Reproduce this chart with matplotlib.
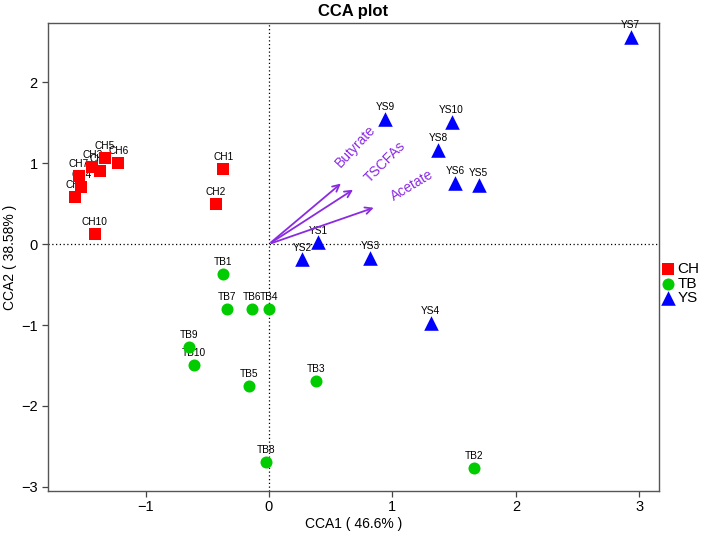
import matplotlib
matplotlib.use("Agg")
import matplotlib.pyplot as plt

plt.rcParams['font.family'] = ['Liberation Sans', 'DejaVu Sans']

# sample scores (CCA1, CCA2)
ch_names = ['CH1', 'CH2', 'CH3', 'CH4', 'CH5', 'CH6', 'CH7', 'CH8', 'CH9', 'CH10']
ch_x = [-0.37, -0.43, -1.43, -1.52, -1.33, -1.22, -1.54, -1.37, -1.57, -1.41]
ch_y = [0.93, 0.49, 0.95, 0.70, 1.06, 1.00, 0.84, 0.90, 0.58, 0.13]

tb_names = ['TB1', 'TB2', 'TB3', 'TB4', 'TB5', 'TB6', 'TB7', 'TB8', 'TB9', 'TB10']
tb_x = [-0.37, 1.66, 0.38, 0.00, -0.16, -0.14, -0.34, -0.02, -0.65, -0.61]
tb_y = [-0.37, -2.77, -1.69, -0.80, -1.75, -0.80, -0.80, -2.69, -1.27, -1.49]

ys_names = ['YS1', 'YS2', 'YS3', 'YS4', 'YS5', 'YS6', 'YS7', 'YS8', 'YS9', 'YS10']
ys_x = [0.40, 0.27, 0.82, 1.31, 1.70, 1.51, 2.93, 1.37, 0.94, 1.48]
ys_y = [0.02, -0.19, -0.17, -0.98, 0.73, 0.76, 2.56, 1.16, 1.55, 1.51]

# environmental vectors
env_names = ['Butyrate', 'TSCFAs', 'Acetate']
env_x = [0.60, 0.70, 0.87]
env_y = [0.77, 0.69, 0.46]
env_lab_x = [0.70, 0.94, 1.16]
env_lab_y = [1.21, 1.01, 0.72]
env_rot = [47, 45, 31]

groups = [
    ('CH', ch_names, ch_x, ch_y, 's', '#FF0000', 85),
    ('TB', tb_names, tb_x, tb_y, 'o', '#00CC00', 75),
    ('YS', ys_names, ys_x, ys_y, '^', '#0000FF', 110),
]

fig = plt.figure(figsize=(7.09, 5.37), dpi=100)
ax = fig.add_axes([0.0677, 0.0857, 0.8618, 0.8713])

ax.axhline(0, color='black', linestyle=(0, (1, 2)), linewidth=0.9, zorder=1)
ax.axvline(0, color='black', linestyle=(0, (1, 2)), linewidth=0.9, zorder=1)

for label, names, xs, ys, marker, color, size in groups:
    ax.scatter(xs, ys, marker=marker, s=size, color=color, label=label,
               linewidths=0, zorder=4)
    for n, x, y in zip(names, xs, ys):
        ax.annotate(n, (x, y), xytext=(0, 5), textcoords='offset points',
                    ha='center', va='bottom', fontsize=7.3, zorder=3)

purple = '#8A2BE2'
for n, x, y, lx, ly, r in zip(env_names, env_x, env_y, env_lab_x, env_lab_y, env_rot):
    ax.annotate('', xy=(x, y), xytext=(0, 0),
                arrowprops=dict(arrowstyle='->', color=purple, lw=1.3,
                                mutation_scale=12), zorder=5)
    ax.text(lx, ly, n, color=purple, fontsize=10, rotation=r,
            ha='center', va='center', rotation_mode='anchor', zorder=5)

ax.set_xlim(-1.79, 3.16)
ax.set_ylim(-3.05, 2.73)
ax.set_xticks([-1, 0, 1, 2, 3])
ax.set_yticks([-3, -2, -1, 0, 1, 2])
ax.set_xticklabels(['\u22121', '0', '1', '2', '3'])
ax.set_yticklabels(['\u22123', '\u22122', '\u22121', '0', '1', '2'])
ax.tick_params(direction='out', length=4, width=0.9, labelsize=10.5, pad=2.5,
               color='#444444')
ax.tick_params(axis='y', pad=3.5)
for sp in ax.spines.values():
    sp.set_color('#555555')
    sp.set_linewidth(1.0)

ax.set_xlabel('CCA1 ( 46.6% )', fontsize=10, labelpad=2)
ax.set_ylabel('CCA2 ( 38.58% )', fontsize=10, labelpad=3)
ax.set_title('CCA plot', fontsize=12, fontweight='bold', pad=5)

ax.legend(loc='center left', bbox_to_anchor=(1.0, 0.443), frameon=False,
          fontsize=11, handletextpad=0.1, borderaxespad=0.1, labelspacing=0.05,
          handlelength=1.0, borderpad=0)

fig.savefig('out.png', dpi=100)
